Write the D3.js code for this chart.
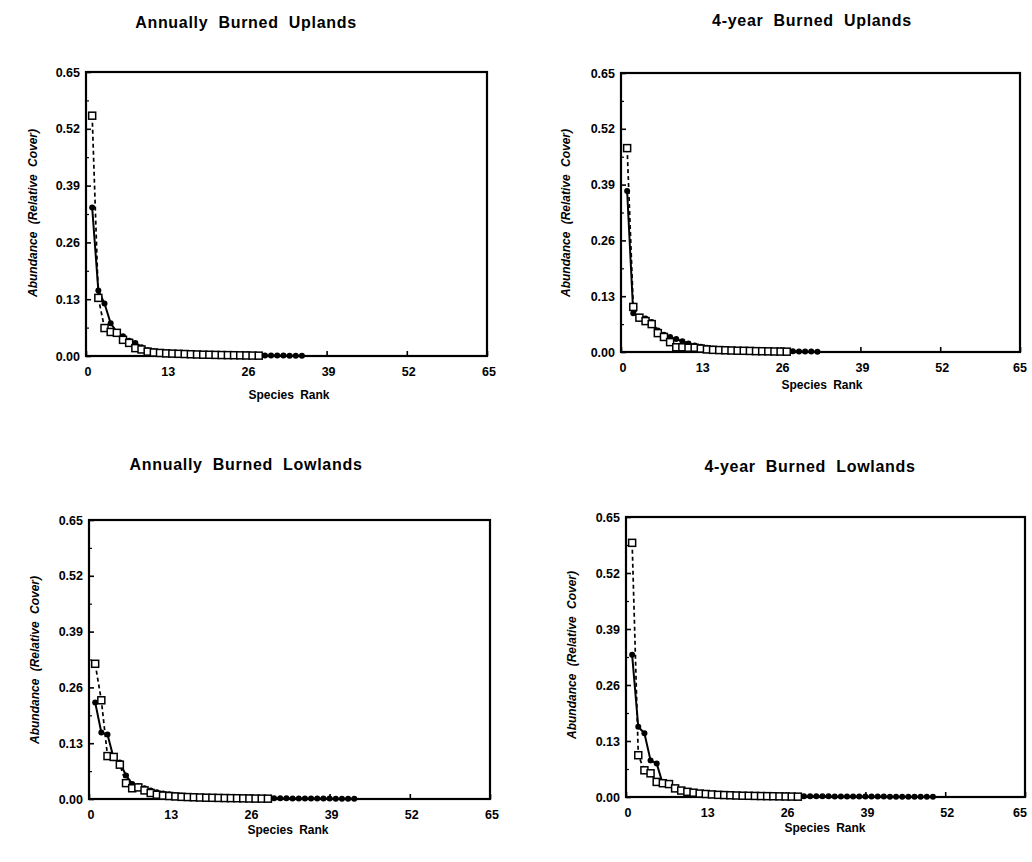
<!DOCTYPE html>
<html>
<head>
<meta charset="utf-8">
<script src="https://cdn.jsdelivr.net/npm/d3@7"></script>
<style>
  body { margin: 0; background: #fff; }
  svg { display: block; font-family: "Liberation Sans", Arial, sans-serif; font-weight: bold; }
</style>
</head>
<body>
<svg id="chart" width="1032" height="862"></svg>
<script>
// tick values shared by all four panels
var xTicks = [0, 13, 26, 39, 52, 65]
var yTicks = [0, 0.13, 0.26, 0.39, 0.52, 0.65]
var yMinor = [0.065, 0.195, 0.325, 0.455, 0.585]

var titles = ["Annually Burned Uplands", "4-year Burned Uplands", "Annually Burned Lowlands", "4-year Burned Lowlands"]

// relative cover by species rank (rank = index + 1)
var upAnnualFilled = [0.34, 0.15, 0.12, 0.075, 0.055, 0.045, 0.035, 0.03, 0.02, 0.013, 0.011, 0.009, 0.008, 0.007, 0.006, 0.0055, 0.005, 0.0045, 0.004, 0.0035, 0.003, 0.003, 0.0025, 0.0022, 0.002, 0.0018, 0.0016, 0.0014, 0.0012, 0.001, 0.001, 0.0009, 0.0008, 0.0007, 0.0006]
var upAnnualOpen = [0.55, 0.133, 0.064, 0.055, 0.053, 0.037, 0.03, 0.018, 0.015, 0.01, 0.008, 0.007, 0.006, 0.0055, 0.005, 0.0045, 0.004, 0.0035, 0.003, 0.0028, 0.0025, 0.0022, 0.002, 0.0018, 0.0015, 0.0012, 0.001, 0.0008]

var up4yrFilled = [0.375, 0.09, 0.082, 0.078, 0.07, 0.05, 0.04, 0.035, 0.03, 0.025, 0.02, 0.015, 0.012, 0.01, 0.008, 0.007, 0.006, 0.005, 0.0045, 0.004, 0.0035, 0.003, 0.0028, 0.0025, 0.0022, 0.002, 0.0018, 0.0015, 0.0012, 0.001, 0.0009, 0.0008]
var up4yrOpen = [0.475, 0.105, 0.08, 0.072, 0.065, 0.044, 0.035, 0.023, 0.011, 0.011, 0.01, 0.01, 0.008, 0.006, 0.005, 0.0045, 0.004, 0.0035, 0.003, 0.0028, 0.0025, 0.002, 0.0018, 0.0015, 0.0012, 0.001, 0.0008]

var lowAnnualFilled = [0.225, 0.155, 0.15, 0.095, 0.085, 0.055, 0.035, 0.03, 0.025, 0.02, 0.016, 0.013, 0.011, 0.009, 0.008, 0.007, 0.006, 0.0055, 0.005, 0.0045, 0.004, 0.0035, 0.003, 0.003, 0.0028, 0.0025, 0.0022, 0.002, 0.002, 0.0018, 0.0016, 0.0015, 0.0014, 0.0013, 0.0012, 0.0011, 0.001, 0.001, 0.0009, 0.0008, 0.0008, 0.0007, 0.0006]
var lowAnnualOpen = [0.315, 0.23, 0.1, 0.098, 0.08, 0.037, 0.025, 0.027, 0.02, 0.014, 0.01, 0.008, 0.007, 0.006, 0.005, 0.0045, 0.004, 0.0035, 0.003, 0.0028, 0.0025, 0.0022, 0.002, 0.0018, 0.0015, 0.0012, 0.001, 0.0009, 0.0008]

var low4yrFilled = [0.33, 0.163, 0.148, 0.085, 0.078, 0.03, 0.028, 0.02, 0.015, 0.012, 0.01, 0.009, 0.008, 0.007, 0.006, 0.0055, 0.005, 0.0045, 0.004, 0.0035, 0.003, 0.003, 0.0028, 0.0026, 0.0024, 0.0022, 0.002, 0.002, 0.0019, 0.0018, 0.0017, 0.0016, 0.0015, 0.0014, 0.0013, 0.0012, 0.0012, 0.0011, 0.001, 0.001, 0.0009, 0.0009, 0.0008, 0.0008, 0.0007, 0.0007, 0.0006, 0.0006, 0.0005, 0.0005]
var low4yrOpen = [0.59, 0.097, 0.062, 0.055, 0.035, 0.032, 0.03, 0.02, 0.015, 0.012, 0.01, 0.008, 0.007, 0.006, 0.005, 0.0045, 0.004, 0.0035, 0.003, 0.0028, 0.0025, 0.0022, 0.002, 0.0018, 0.0015, 0.0012, 0.001, 0.0008]

var filledSeries = [upAnnualFilled, up4yrFilled, lowAnnualFilled, low4yrFilled]
var openSeries = [upAnnualOpen, up4yrOpen, lowAnnualOpen, low4yrOpen]

// where each panel sits on the page (scan is a bit uneven)
var panels = [
  {l: 86, r: 487, t: 72, b: 356, tx: 246, ty: 28, lx: 289, ly: 399, yx: 33, yy: 213},
  {l: 621, r: 1020, t: 73, b: 352, tx: 812, ty: 26, lx: 822, ly: 389, yx: 566, yy: 213},
  {l: 89, r: 490, t: 520, b: 799, tx: 246, ty: 470, lx: 288, ly: 834, yx: 35, yy: 660},
  {l: 626, r: 1025, t: 517, b: 797, tx: 810, ty: 472, lx: 825, ly: 832, yx: 572, yy: 655}
]

var svg = d3.select('#chart')
svg.append('rect').attr('width', 1032).attr('height', 862).attr('fill', '#fff')

panels.forEach(function(p, i) {
  var x = d3.scaleLinear().domain([0, 65]).range([p.l, p.r])
  var y = d3.scaleLinear().domain([0, 0.65]).range([p.b, p.t])
  var g = svg.append('g')

  // frame
  g.append('rect')
    .attr('x', p.l).attr('y', p.t)
    .attr('width', p.r - p.l).attr('height', p.b - p.t)
    .attr('fill', 'none').attr('stroke', '#000').attr('stroke-width', 2.2)

  // y axis, ticks pointing in
  var yAxis = g.append('g').attr('transform', 'translate(' + p.l + ',0)')
    .call(d3.axisRight(y).tickValues(yTicks).tickSize(5).tickFormat(''))
  yAxis.select('.domain').remove()
  yAxis.selectAll('line').attr('stroke-width', 1.6)
  g.append('g').attr('transform', 'translate(' + p.l + ',0)')
    .call(d3.axisRight(y).tickValues(yMinor).tickSize(3).tickFormat(''))
    .call(function(a) { a.select('.domain').remove(); a.selectAll('line').attr('stroke-width', 1.2) })

  g.selectAll('.ylab').data(yTicks).join('text')
    .attr('x', p.l - 6).attr('y', function(d) { return y(d) + 4.5 })
    .attr('text-anchor', 'end').attr('font-size', 12.5)
    .text(function(d) { return d3.format('.2f')(d) })

  // x axis
  var xAxis = g.append('g').attr('transform', 'translate(0,' + p.b + ')')
    .call(d3.axisTop(x).tickValues(xTicks).tickSize(5).tickFormat(''))
  xAxis.select('.domain').remove()
  xAxis.selectAll('line').attr('stroke-width', 1.6)

  // last label on the right-hand panels sits right at the page edge
  g.selectAll('.xlab').data(xTicks).join('text')
    .attr('x', function(d) { return Math.min(x(d) + 2, 1020) }).attr('y', p.b + 20)
    .attr('text-anchor', 'middle').attr('font-size', 12.5)
    .text(function(d) { return d })

  // titles
  g.append('text').attr('x', p.tx).attr('y', p.ty)
    .attr('text-anchor', 'middle').attr('font-size', 16)
    .attr('letter-spacing', 0.7).attr('word-spacing', 5)
    .text(titles[i])
  g.append('text').attr('x', p.lx).attr('y', p.ly)
    .attr('text-anchor', 'middle').attr('font-size', 12)
    .attr('word-spacing', 3)
    .text('Species Rank')
  g.append('text')
    .attr('transform', 'translate(' + (p.yx + 4) + ',' + p.yy + ') rotate(-90)')
    .attr('text-anchor', 'middle').attr('font-size', 12).attr('font-style', 'italic')
    .attr('word-spacing', 4)
    .text('Abundance (Relative Cover)')

  var line = d3.line()
    .x(function(d, k) { return x(k + 1) })
    .y(function(d) { return y(d) })

  g.append('path').datum(filledSeries[i])
    .attr('d', line).attr('fill', 'none')
    .attr('stroke', '#000').attr('stroke-width', 2)
  g.append('path').datum(openSeries[i])
    .attr('d', line).attr('fill', 'none')
    .attr('stroke', '#000').attr('stroke-width', 1.7)
    .attr('stroke-dasharray', '4,3')

  g.selectAll('.dot').data(filledSeries[i]).join('circle')
    .attr('cx', function(d, k) { return x(k + 1) })
    .attr('cy', function(d) { return y(d) })
    .attr('r', 3).attr('fill', '#000')

  g.selectAll('.sq').data(openSeries[i]).join('rect')
    .attr('x', function(d, k) { return x(k + 1) - 3.5 })
    .attr('y', function(d) { return y(d) - 3.5 })
    .attr('width', 7).attr('height', 7)
    .attr('fill', '#fff').attr('stroke', '#000').attr('stroke-width', 1.5)
})
</script>
</body>
</html>
